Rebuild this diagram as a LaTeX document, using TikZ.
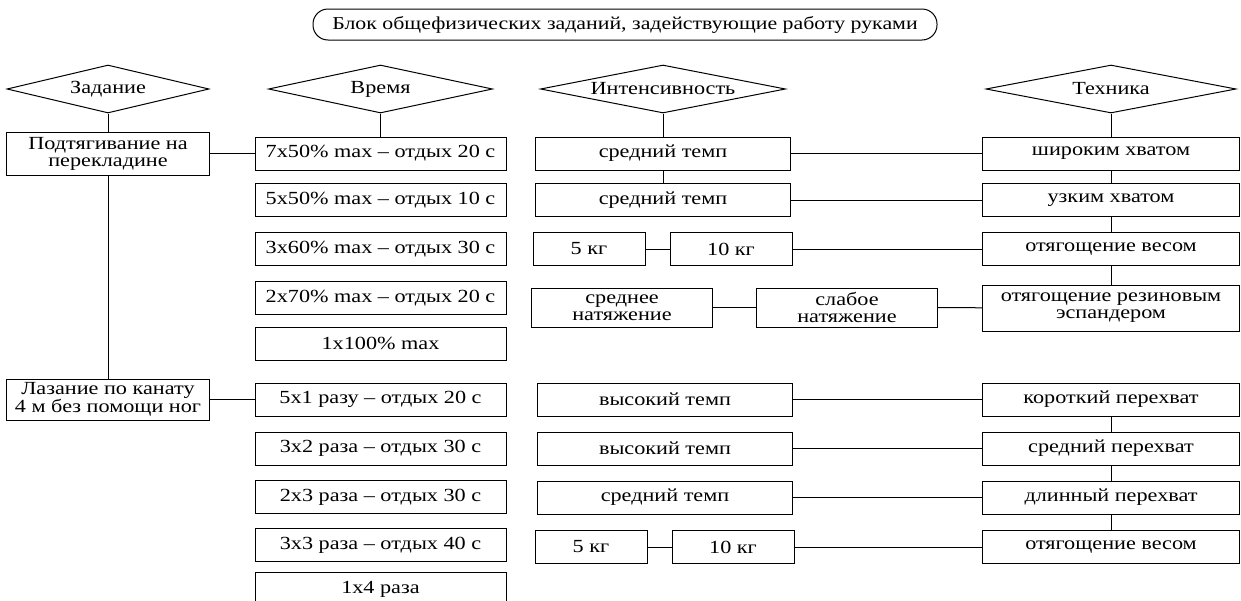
\documentclass[tikz,border=0pt]{standalone}
\usepackage{fontspec}
\setmainfont{Liberation Serif}[FakeStretch=1.2]
\usetikzlibrary{shapes.geometric, positioning}

\begin{document}
\begin{tikzpicture}[
      x=1pt, y=-1pt,
      line width=1pt,
      every node/.style={font=\fontsize{18.5}{17}\selectfont},
      head/.style ={rectangle, draw, rounded corners=15pt, minimum width=624pt, minimum height=31pt,
                    font=\fontsize{18.2}{17}\selectfont},
      cond/.style ={diamond, draw, aspect=5, inner sep=0pt, minimum height=48pt},
      box/.style  ={rectangle, draw, align=center, inner sep=2pt, minimum height=33pt},
      task/.style ={box, minimum width=203pt},
      time/.style ={box, minimum width=251pt},
      load/.style ={box, minimum width=255pt},
      kg/.style   ={box, minimum width=112pt},
      kgb/.style  ={box, minimum width=122pt},
      pull/.style ={box, minimum width=181pt, minimum height=39pt},
      tech/.style ={box, minimum width=257pt}
    ]
    \useasboundingbox (0,0) rectangle (1241,600);

    % Заголовок
    \node[head] (BL) at (625,24.5) {Блок общефизических заданий, задействующие работу руками};

    % Ромбы
    \node[cond, minimum width=202pt] (ZD) at (108,89)   {Задание};
    \node[cond, minimum width=224pt] (VR) at (380.5,89) {Время};
    \node[cond, minimum width=245pt] (IN) at (663,89)   {Интенсивность};
    \node[cond, minimum width=250pt] (TX) at (1111,89)  {Техника};

    % Задания
    \node[task, minimum height=43pt] (PT) at (108,153.5) {Подтягивание на\\перекладине};
    \node[task, minimum height=41pt] (LZ) at (108,399.5) {Лазание по канату\\4 м без помощи ног};

    % Время
    \node[time] (B1)  at (380.5,153.5) {7x50\% max -- отдых 20 с};
    \node[time] (B2)  at (380.5,200)   {5x50\% max -- отдых 10 с};
    \node[time] (B3)  at (380.5,249)   {3x60\% max -- отдых 30 с};
    \node[time] (B4)  at (380.5,298)   {2x70\% max -- отдых 20 с};
    \node[time] (B5)  at (380.5,343.5) {1x100\% max};
    \node[time] (B6)  at (380.5,399.5) {5x1 разу -- отдых 20 с};
    \node[time] (B7)  at (380.5,448.5) {3x2 раза -- отдых 30 с};
    \node[time] (B8)  at (380.5,497)   {2x3 раза -- отдых 30 с};
    \node[time] (B9)  at (380.5,545)   {3x3 раза -- отдых 40 с};
    \node[time] (B10) at (380.5,589)   {1x4 раза};

    % Интенсивность
    \node[load] (C1)  at (663,153.5) {средний темп};
    \node[load] (C2)  at (663,200)   {средний темп};
    \node[kg]   (C3a) at (589,249)   {5 кг};
    \node[kgb]  (C3b) at (731,249)   {10 кг};
    \node[pull] (C4a) at (622,307.5) {среднее\\натяжение};
    \node[pull] (C4b) at (847,307.5) {слабое\\натяжение};
    \node[load] (C6)  at (665,399.5) {высокий темп};
    \node[load] (C7)  at (665,448.5) {высокий темп};
    \node[load] (C8)  at (665,497.5) {средний темп};
    \node[kg]   (C9a) at (591,547)   {5 кг};
    \node[kgb]  (C9b) at (733,547)   {10 кг};

    % Техника
    \node[tech] (D1) at (1111,153.5) {широким хватом};
    \node[tech] (D2) at (1111,200)   {узким хватом};
    \node[tech] (D3) at (1111,249)   {отягощение весом};
    \node[tech, minimum height=46pt] (D4) at (1111,308) {отягощение резиновым\\эспандером};
    \node[tech] (D6) at (1111,399.5) {короткий перехват};
    \node[tech] (D7) at (1111,448.5) {средний перехват};
    \node[tech] (D8) at (1111,497.5) {длинный перехват};
    \node[tech] (D9) at (1111,547)   {отягощение весом};

    % Связи от ромбов
    \draw (ZD) -- (PT);
    \draw (VR) -- (B1);
    \draw (IN) -- (C1);
    \draw (TX) -- (D1);

    % Связи заданий
    \draw (PT) -- (LZ);
    \draw (PT) -- (B1);
    \draw (LZ) -- (B6);

    % Верхний блок
    \draw (C1) -- (C2);
    \draw (C1) -- (D1);
    \draw (C2) -- (D2);
    \draw (C3a) -- (C3b);
    \draw (C3b) -- (D3);
    \draw (C4a) -- (C4b);
    \draw (C4b) -- (D4);
    \draw (D1) -- (D2);
    \draw (D2) -- (D3);
    \draw (D3) -- (D4);

    % Нижний блок
    \draw (C6) -- (D6);
    \draw (C7) -- (D7);
    \draw (C8) -- (D8);
    \draw (C9a) -- (C9b);
    \draw (C9b) -- (D9);
    \draw (D6) -- (D7);
    \draw (D7) -- (D8);
    \draw (D8) -- (D9);

  \end{tikzpicture}
\end{document}
